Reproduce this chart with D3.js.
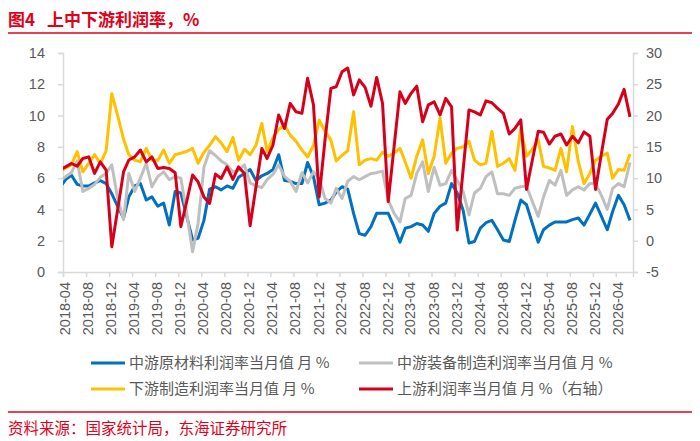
<html>

<head>
  <meta charset="utf-8">
  <script src="https://d3js.org/d3.v7.min.js"></script>
  <style>
    body { margin: 0; background: #fff; }
    text { font-family: "Liberation Sans", Arial, sans-serif; }
    .cjk { font-family: "Noto Sans CJK SC", "Noto Sans", sans-serif; }
  </style>
</head>

<body>
  <svg id="chart" width="700" height="441"></svg>

  <script>
    // monthly values, 2018-03 .. 2026-06 (first point sits left of the axis and gets clipped)
    const firstMonth = new Date(2018, 2, 15);

    const midMaterial = [5.4,
      5.9, 6.2, 5.6, 5.5, 5.5, 5.7, 5.85, 5.65, 5.0, 4.2,
      3.45, 4.8, 5.5, 5.65, 4.6, 4.8, 4.2, 4.4, 3.0, 5.15,
      5.05, 3.55, 2.05, 2.15, 3.3, 5.3, 5.45, 5.25, 5.5, 5.35,
      6.05, 6.3, 6.55, 5.85, 6.15, 6.3, 6.55, 7.5, 5.85, 5.8,
      5.65, 5.65, 7.0, 6.1, 4.3, 4.4, 4.6, 5.1, 5.45, 5.3,
      3.75, 2.45, 2.35, 2.9, 3.75, 3.75, 3.75, 2.9, 1.9, 2.8,
      2.9, 3.1, 3.0, 2.6, 3.75, 4.2, 4.4, 5.65, 5.05, 3.95,
      1.85, 1.95, 2.8, 3.15, 3.3, 2.7, 2.05, 1.95, 3.3, 4.6,
      4.3, 3.1, 1.9, 2.7, 3.0, 3.2, 3.2, 3.2, 3.35, 3.45,
      3.0, 3.7, 4.4, 3.55, 2.7, 3.85, 4.9, 4.3, 3.3];

    const midEquipment = [5.8,
      6.1, 6.35, 7.1, 5.15, 5.35, 5.6, 6.05, 6.3, 6.85, 4.7,
      3.35, 6.3, 5.15, 6.0, 6.95, 5.45, 6.1, 6.4, 5.9, 6.1,
      6.0, 3.75, 1.3, 3.1, 6.7, 7.75, 7.45, 7.1, 6.85, 6.4,
      6.5, 6.85, 5.7, 5.5, 5.4, 5.9, 6.25, 6.85, 6.1, 5.8,
      5.15, 6.35, 5.7, 6.4, 6.0, 4.7, 4.4, 5.35, 4.7, 5.8,
      6.1, 5.9, 6.1, 6.3, 6.35, 6.45, 4.6, 3.75, 3.2, 4.7,
      4.9, 6.3, 7.05, 5.15, 6.7, 5.55, 5.65, 6.5, 5.85, 5.15,
      3.65, 5.05, 5.35, 6.1, 6.4, 5.0, 5.0, 4.9, 5.35, 5.45,
      5.5, 4.5, 3.55, 4.8, 5.85, 5.55, 6.5, 4.9, 5.25, 5.45,
      5.25, 5.65, 5.65, 4.9, 4.0, 5.35, 5.65, 5.45, 7.0];

    const downstream = [6.4,
      6.65, 6.85, 7.7, 6.4, 6.95, 7.5, 6.95, 7.75, 11.4, 10.0,
      8.5, 7.5, 7.15, 7.05, 7.9, 7.15, 7.15, 7.8, 6.95, 7.5,
      7.6, 7.7, 7.9, 6.95, 7.65, 8.1, 8.65, 8.25, 7.7, 8.6,
      7.15, 7.85, 7.5, 8.1, 9.5, 7.7, 8.6, 9.1, 9.4, 8.75,
      8.35, 7.8, 7.35, 8.1, 9.7, 9.0, 8.45, 7.1, 7.45, 7.75,
      10.25, 6.85, 7.15, 7.25, 7.15, 7.65, 7.4, 7.6, 7.9, 7.05,
      6.0, 7.4, 8.45, 6.3, 7.4, 9.85, 6.95, 7.6, 7.9, 8.0,
      8.35, 7.15, 6.85, 6.95, 9.0, 6.75, 6.95, 7.25, 6.5, 9.2,
      7.4, 7.85, 8.45, 6.75, 6.65, 6.5, 7.9, 6.4, 9.3, 7.05,
      5.65, 6.3, 7.15, 7.4, 7.6, 6.0, 6.55, 6.5, 7.55];

    const upstream = [11.3,
      11.8, 12.35, 11.9, 13.15, 13.4, 10.75, 12.6, 11.3, -0.95, 5.0,
      11.0, 12.9, 13.4, 14.5, 12.6, 13.4, 11.55, 11.7, 11.55, 10.85,
      2.25, 6.3, 10.5, 9.4, 7.0, 5.95, 10.65, 9.95, 11.8, 9.8,
      11.8, 10.75, 2.4, 8.6, 14.75, 13.15, 15.3, 20.1, 17.95, 21.95,
      20.6, 20.35, 25.95, 21.7, 7.0, 16.1, 24.35, 24.6, 27.0, 27.6,
      23.3, 25.7, 24.5, 21.5, 26.1, 21.95, 6.25, 15.0, 23.8, 21.95,
      23.55, 24.7, 19.0, 21.7, 22.2, 20.1, 22.75, 21.4, 1.7, 11.3,
      20.9, 20.6, 20.1, 22.35, 22.05, 21.15, 20.35, 17.05, 17.95, 19.3,
      8.2, 12.9, 17.5, 17.35, 15.45, 16.7, 17.05, 15.3, 16.7, 15.65,
      17.4, 16.7, 8.2, 13.95, 19.4, 20.35, 21.85, 24.2, 19.8];

    const leftTicks = [0, 2, 4, 6, 8, 10, 12, 14];
    const rightTicks = [-5, 0, 5, 10, 15, 20, 25, 30];
    const xTickLabels = ["2018-04", "2018-08", "2018-12", "2019-04", "2019-08", "2019-12",
      "2020-04", "2020-08", "2020-12", "2021-04", "2021-08", "2021-12", "2022-04",
      "2022-08", "2022-12", "2023-04", "2023-08", "2023-12", "2024-04", "2024-08",
      "2024-12", "2025-04", "2025-08", "2025-12", "2026-04"];

    const series = [
      { name: "中游原材料利润率当月值 月 %", values: midMaterial, color: "#0070C0", axis: "left" },
      { name: "中游装备制造利润率当月值 月 %", values: midEquipment, color: "#BFBFBF", axis: "left" },
      { name: "下游制造利润率当月值 月 %", values: downstream, color: "#FFC000", axis: "left" },
      { name: "上游利润率当月值 月 %（右轴）", values: upstream, color: "#D7001A", axis: "right" }
    ];

    const svg = d3.select("#chart");
    const titleRed = "#E2001A";
    const labelColor = "#595959";
    const axisColor = "#D9D9D9";

    const plotLeft = 63, plotRight = 633, plotTop = 53, plotBottom = 272;

    const parseMonth = d3.timeParse("%Y-%m");
    const x = d3.scaleTime()
      .domain([parseMonth("2018-04"), parseMonth("2026-07")])
      .range([plotLeft, plotRight]);
    const yL = d3.scaleLinear().domain([0, 14]).range([plotBottom, plotTop]);
    const yR = d3.scaleLinear().domain([-5, 30]).range([plotBottom, plotTop]);

    const dates = midMaterial.map((d, i) => d3.timeMonth.offset(firstMonth, i));

    // title
    svg.append("text").attr("class", "cjk")
      .attr("x", 8).attr("y", 26)
      .attr("fill", titleRed).attr("font-size", 17).attr("font-weight", "bold")
      .text("图4");
    svg.append("text").attr("class", "cjk")
      .attr("x", 47).attr("y", 26)
      .attr("fill", titleRed).attr("font-size", 17).attr("font-weight", "bold")
      .text("上中下游利润率，%");
    svg.append("line")
      .attr("x1", 8).attr("x2", 692).attr("y1", 33).attr("y2", 33)
      .attr("stroke", titleRed).attr("stroke-width", 1.5);

    // axes
    const plain = d => String(d);
    const gl = svg.append("g").attr("transform", `translate(${plotLeft},0)`)
      .call(d3.axisLeft(yL).tickValues(leftTicks).tickFormat(plain).tickSize(5).tickPadding(13));
    const gr = svg.append("g").attr("transform", `translate(${plotRight},0)`)
      .call(d3.axisRight(yR).tickValues(rightTicks).tickFormat(plain).tickSize(5).tickPadding(8));
    const gx = svg.append("g").attr("transform", `translate(0,${plotBottom})`)
      .call(d3.axisBottom(x).tickValues(xTickLabels.map(parseMonth)).tickSize(5)
        .tickFormat(d3.timeFormat("%Y-%m")));

    [gl, gr, gx].forEach(g => {
      g.select(".domain").attr("stroke", axisColor).attr("stroke-width", 1.5);
      g.selectAll(".tick line").attr("stroke", axisColor).attr("stroke-width", 1.5);
      g.selectAll(".tick text")
        .attr("fill", labelColor)
        .attr("font-size", 14.5)
        .attr("font-family", "'Liberation Sans', Arial, sans-serif");
    });

    gx.selectAll(".tick text")
      .attr("transform", "rotate(-90)")
      .attr("text-anchor", "end")
      .attr("x", -10)
      .attr("y", 0)
      .attr("dy", "0.45em");

    // lines
    svg.append("clipPath").attr("id", "plot")
      .append("rect").attr("x", plotLeft).attr("y", 0)
      .attr("width", plotRight - plotLeft).attr("height", 300);

    const plot = svg.append("g").attr("clip-path", "url(#plot)");

    series.forEach(s => {
      const y = s.axis === "left" ? yL : yR;
      const line = d3.line()
        .x((d, i) => x(dates[i]))
        .y(d => y(d));
      plot.append("path")
        .datum(s.values)
        .attr("fill", "none")
        .attr("stroke", s.color)
        .attr("stroke-width", 3)
        .attr("stroke-linejoin", "round")
        .attr("d", line);
    });

    // legend
    const legendPos = [[91, 363], [359, 363], [91, 389], [359, 389]];
    series.forEach((s, i) => {
      const [lx, ly] = legendPos[i];
      svg.append("line")
        .attr("x1", lx).attr("x2", lx + 34).attr("y1", ly).attr("y2", ly)
        .attr("stroke", s.color).attr("stroke-width", 3);
      svg.append("text").attr("class", "cjk")
        .attr("x", lx + 38).attr("y", ly).attr("dy", "0.36em")
        .attr("fill", labelColor).attr("font-size", 15)
        .text(s.name);
    });

    // source
    svg.append("line")
      .attr("x1", 8).attr("x2", 692).attr("y1", 412).attr("y2", 412)
      .attr("stroke", titleRed).attr("stroke-width", 1.5);
    svg.append("text").attr("class", "cjk")
      .attr("x", 8).attr("y", 428).attr("dy", "0.36em")
      .attr("fill", titleRed).attr("font-size", 15.5)
      .text("资料来源：国家统计局，东海证券研究所");
  </script>
</body>

</html>
